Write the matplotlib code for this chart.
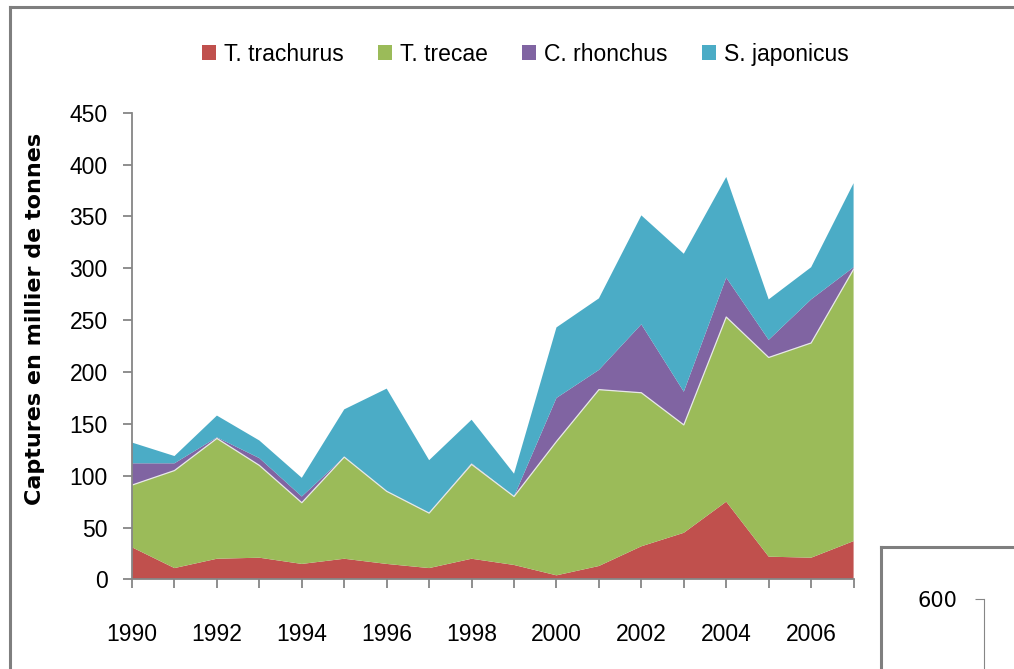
import numpy as np
import matplotlib
matplotlib.use("Agg")
import matplotlib.pyplot as plt
from matplotlib.lines import Line2D

plt.rcParams["font.family"] = ["Liberation Sans", "DejaVu Sans"]

# captures par espece (milliers de tonnes)
years = list(range(1990, 2008))
t_trachurus = [31, 11, 20, 21, 15, 20, 15, 11, 20, 14, 4, 13, 32, 45, 75, 22, 21, 37]
t_trecae = [60, 94, 116, 89, 59, 98, 70, 53, 91, 66, 129, 170, 148, 104, 178, 192, 207, 262]
c_rhonchus = [21, 7, 1, 7, 6, 0, 0, 0, 1, 0, 42, 19, 66, 32, 38, 17, 42, 2]
s_japonicus = [20, 7, 21, 17, 18, 46, 99, 51, 42, 22, 68, 69, 105, 133, 97, 39, 31, 81]

labels = ["T. trachurus", "T. trecae", "C. rhonchus", "S. japonicus"]
colors = ["#C0504D", "#9BBB59", "#8064A2", "#4BACC6"]
label_years = list(range(1990, 2007, 2))
yticks = list(range(0, 451, 50))

grey = "#868686"
frame = "#7F7F7F"

fig = plt.figure(figsize=(10.14, 6.69), dpi=100)
ax = fig.add_axes([0.1302, 0.1338, 0.7116, 0.6978])

ax.stackplot(years, t_trachurus, t_trecae, c_rhonchus, s_japonicus,
             colors=colors, labels=labels, linewidth=0)
# fine ligne claire au sommet de T. trecae
green_top = np.array(t_trachurus) + np.array(t_trecae)
ax.plot(years, green_top, color="#E8E8E8", lw=0.9)

ax.set_xlim(1990, 2007)
ax.set_ylim(0, 450)
ax.set_xticks(years)
ax.set_xticklabels([str(y) if y in label_years else "" for y in years])
ax.set_yticks(yticks)

for s in ["top", "right"]:
    ax.spines[s].set_visible(False)
for s in ["left", "bottom"]:
    ax.spines[s].set_color(grey)
    ax.spines[s].set_linewidth(1.3)
ax.tick_params(axis="both", colors=grey, length=6.5, width=1.3, labelsize=16.5,
               labelcolor="black")
ax.tick_params(axis="x", pad=25)
ax.tick_params(axis="y", pad=11)

ax.set_ylabel("Captures en millier de tonnes", fontsize=16, fontweight="bold",
              family="DejaVu Sans")
ax.yaxis.set_label_coords(-0.121, 0.558)

leg = fig.legend(loc="center", bbox_to_anchor=(0.518, 0.919), ncol=4,
                 frameon=False, fontsize=16.5, handlelength=0.6, handleheight=0.6,
                 handletextpad=0.35, columnspacing=1.5)

# cadre exterieur du graphique
fig.add_artist(Line2D([10 / 1014, 10 / 1014], [0, 1 - 7 / 669],
                      transform=fig.transFigure, color=frame, lw=2.2))
fig.add_artist(Line2D([10 / 1014, 1], [1 - 7 / 669, 1 - 7 / 669],
                      transform=fig.transFigure, color=frame, lw=2.2))

# morceau d'un autre graphique en bas a droite
fig.add_artist(Line2D([881 / 1014, 881 / 1014], [0, 1 - 547 / 669],
                      transform=fig.transFigure, color=frame, lw=2.2))
fig.add_artist(Line2D([881 / 1014, 1], [1 - 547 / 669, 1 - 547 / 669],
                      transform=fig.transFigure, color=frame, lw=2.2))
ax2 = fig.add_axes([984 / 1014, 0, 0.02, (669 - 599) / 669])
ax2.set_ylim(500, 600)
ax2.set_yticks([600])
ax2.set_xticks([])
for s in ["top", "right", "bottom"]:
    ax2.spines[s].set_visible(False)
ax2.spines["left"].set_color(grey)
ax2.tick_params(axis="y", colors=grey, length=6.5, labelsize=15,
                labelcolor="black", pad=13)
for t in ax2.get_yticklabels():
    t.set_family("DejaVu Sans")
ax2.patch.set_alpha(0)

fig.savefig("out.png", dpi=100)
